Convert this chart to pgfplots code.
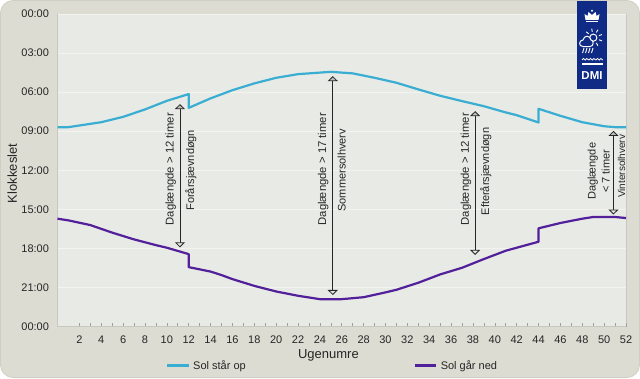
\documentclass[border=0pt]{standalone}
\usepackage{pgfplots}
\usepackage{fontspec}
\setmainfont{Liberation Sans}
\pgfplotsset{compat=1.18}
\usetikzlibrary{arrows.meta}
\definecolor{outer}{HTML}{DCDCD3}
\definecolor{edge}{HTML}{CFCFC6}
\definecolor{plotbg}{HTML}{E8EAE5}
\definecolor{gridc}{HTML}{F3F4F0}
\definecolor{axisc}{HTML}{C9C8BE}
\definecolor{rise}{HTML}{3AADD2}
\definecolor{sset}{HTML}{52209A}
\definecolor{dmi}{HTML}{0F2B85}
\newcommand{\fs}[1]{\fontsize{#1bp}{#1bp}\selectfont}
\begin{document}
\begin{tikzpicture}[
  harrow/.style={black!85,line width=0.8bp,{Triangle[open,fill=black!25,length=5bp,width=10bp,line width=0.8bp]}-{Triangle[open,fill=black!10,length=5bp,width=10bp,line width=0.8bp]}}]
\begin{scope}[x=1bp,y=1bp]
\useasboundingbox (0,0) rectangle (640,378);
\fill[white] (0,0) rectangle (640,378);
\draw[edge,fill=outer,line width=0.8bp,rounded corners=13bp] (0.4,0.4) rectangle (639.6,377.6);
\end{scope}
\begin{axis}[
  at={(57.5bp,364bp)},anchor=north west,
  scale only axis,width=568.5bp,height=312.5bp,
  xmin=0,xmax=52,ymin=0,ymax=24,y dir=reverse,
  clip=false,
  axis background/.style={fill=plotbg,draw=axisc,line width=0.5bp},
  axis line style={axisc,line width=0.7bp},
  axis x line*=bottom,axis y line*=left,
  xtick={2,4,...,52},minor x tick num=1,
  ytick={0,3,...,24},
  yticklabels={00:00,03:00,06:00,09:00,12:00,15:00,18:00,21:00,00:00},
  ymajorgrids,grid style={gridc,line width=0.7bp},
  tick align=inside,
  major tick length=4bp,minor tick length=4bp,
  xtick style={axisc!80!black,line width=0.6bp},
  minor x tick style={axisc!80!black,line width=0.6bp},
  ytick style={draw=none},
  tick label style={font=\fs{11},text=black!85},
  /pgf/number format/assume math mode=true,
  xticklabel style={yshift=-5.5bp},
  yticklabel style={xshift=-5bp},
  xlabel={Ugenumre},xlabel style={font=\fs{13},text=black!85,at={(axis description cs:0.4765,0)},anchor=north,yshift=-19.5bp},
  ylabel={Klokkeslet},ylabel style={font=\fs{13},text=black!85,at={(axis description cs:0,0.49)},anchor=south,yshift=37bp},
  legend style={at={(axis description cs:0.1908,-0.1248)},anchor=west,draw=none,fill=none,inner sep=0pt,outer sep=0pt,font=\fs{11},text=black!85,
    nodes={inner sep=0pt},
    /tikz/column 1/.style={column sep=3.5bp},
    /tikz/column 2/.style={column sep=167.8bp},
    /tikz/column 3/.style={column sep=3.5bp}},
  legend columns=2,
  legend cell align=left,
  legend image code/.code={\draw[#1] (0bp,0bp) -- (21.5bp,0bp);},
]
\addplot[rise,line width=2.2bp,line join=round] coordinates {
(0,8.69)(1,8.69)(4,8.31)(6,7.90)(8,7.33)(10,6.67)(12,6.15)(12,7.21)(14,6.48)(16,5.85)(18,5.33)(20,4.90)(22,4.62)(25,4.44)(27,4.56)(29,4.90)(31,5.28)(33,5.79)(35,6.28)(37,6.69)(39,7.08)(41,7.56)(42,7.77)(44,8.33)(44,7.28)(46,7.82)(48,8.31)(50,8.62)(51,8.69)(52,8.69)};
\addlegendentry{Sol står op}
\addplot[sset,line width=2.2bp,line join=round] coordinates {
(0,15.72)(1,15.85)(3,16.21)(5,16.79)(7,17.31)(9,17.75)(10,17.95)(12,18.44)(12,19.44)(14,19.78)(15,20.05)(16,20.36)(18,20.88)(20,21.31)(22,21.64)(24,21.90)(26,21.90)(28,21.75)(30,21.38)(31,21.18)(33,20.64)(35,20.0)(37,19.49)(39,18.82)(41,18.18)(44,17.49)(44,16.46)(46,16.05)(48,15.72)(49,15.59)(51,15.59)(52,15.67)};
\addlegendentry{Sol går ned}
\addplot[harrow,forget plot] coordinates {(11.2,6.92)(11.2,17.92)};
\addplot[harrow,forget plot] coordinates {(25.18,4.77)(25.18,21.58)};
\addplot[harrow,forget plot] coordinates {(38.2,7.46)(38.2,18.5)};
\addplot[harrow,forget plot] coordinates {(50.85,8.98)(50.85,15.4)};
\node[rotate=90,font=\fs{11.3},text=black!85] at (axis cs:10.36,11.92) {Daglængde > 12 timer};
\node[rotate=90,font=\fs{11},text=black!85] at (axis cs:12.2,12.0) {Forårsjævndøgn};
\node[rotate=90,font=\fs{11.3},text=black!85] at (axis cs:24.3,11.92) {Daglængde > 17 timer};
\node[rotate=90,font=\fs{11},text=black!85] at (axis cs:26.0,12.0) {Sommersolhverv};
\node[rotate=90,font=\fs{11.3},text=black!85] at (axis cs:37.35,11.92) {Daglængde > 12 timer};
\node[rotate=90,font=\fs{11},text=black!85] at (axis cs:39.17,12.1) {Efterårsjævndøgn};
\node[rotate=90,font=\fs{11},text=black!85,align=center] at (axis cs:49.5,12.08) {Daglængde\\[3bp]< 7 timer};
\node[rotate=90,font=\fs{10},text=black!85] at (axis cs:51.6,11.7) {Vintersolhverv};
\end{axis}
\begin{scope}[x=1bp,y=1bp]
% logo
\fill[dmi] (577,289) rectangle (607,377);
\begin{scope}[white]
\fill (585.5,358) -- (584.5,364) -- (587.5,362) -- (588.5,366) -- (592,363) -- (595.5,366) -- (596.5,362) -- (599.5,364) -- (598.5,358) -- cycle;
\fill (592,367.3) circle (1.1);
\draw[line width=1.2bp] (586,356.5) -- (598,356.5);
\draw[line width=1bp] (593.3,340.3) circle (3.6);
\foreach \a in {-60,-20,20,60,100,140}{\draw[line width=0.9bp] (593.3,340.3)++(\a:6) -- ++(\a:3.2);}
\draw[line width=1bp,fill=dmi] (583,331.5) .. controls (578,331.5) and (579,338) .. (583,338) .. controls (584,343) and (590,343) .. (591,338) .. controls (594,338) and (594,331.5) .. (590,331.5) -- cycle;
\foreach \x in {584,587,590,593}{\draw[line width=0.9bp] (\x,330) -- (\x-1.5,325);}
\draw[line width=1.1bp] (582,314) -- (602.5,314);
\foreach \x in {582,589,596}{\draw[line width=0.8bp] (\x,318) .. controls (\x+1,320) and (\x+2,320) .. (\x+3.2,318) .. controls (\x+4,320) and (\x+5.5,320) .. (\x+6.8,318);}
\end{scope}
\node[text=white,font=\fs{11.5}\bfseries,inner sep=0] at (592,302) {DMI};
\end{scope}
\end{tikzpicture}
\end{document}
